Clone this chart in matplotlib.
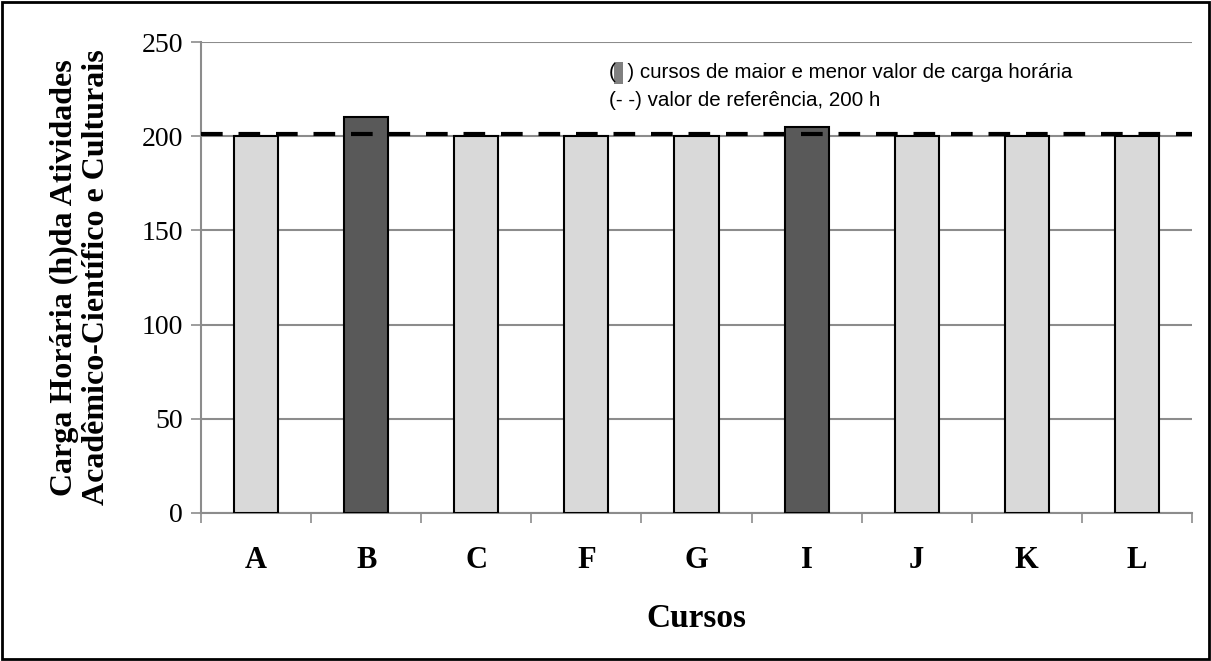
import matplotlib
matplotlib.use("Agg")
import matplotlib.pyplot as plt
from matplotlib.patches import Rectangle
import numpy as np

categories = ["A", "B", "C", "F", "G", "I", "J", "K", "L"]
values = [200, 210, 200, 200, 200, 205, 200, 200, 200]
highlight = [False, True, False, False, False, True, False, False, False]
reference_value = 201
yticks = [0, 50, 100, 150, 200, 250]

fig = plt.figure(figsize=(12.11, 6.61), dpi=100)
ax = fig.add_axes([201/1211, 1 - 513/661, (1192-201)/1211, (513-42)/661])

x = np.arange(len(categories))
colors = ["#595959" if h else "#d9d9d9" for h in highlight]
ax.bar(x, values, width=0.4, color=colors, edgecolor="black", linewidth=1.5, zorder=3)
ax.axhline(reference_value, color="black", linestyle=(0, (5.2, 3.8)), linewidth=3.0, zorder=4)

ax.set_xlim(-0.5, len(categories) - 0.5)
ax.set_ylim(0, 250)
ax.set_yticks(yticks)
ax.set_yticklabels([str(v) for v in yticks], family="Liberation Serif", fontsize=20)
ax.yaxis.grid(True, color="#8c8c8c", linewidth=1.5, zorder=0)
ax.set_axisbelow(True)

ax.set_xticks(np.arange(-0.5, len(categories), 1.0))
ax.set_xticklabels([])
ax.set_xticks(x, minor=True)
ax.set_xticklabels(categories, minor=True, family="Liberation Serif", fontsize=22, fontweight="bold")
ax.tick_params(axis="x", which="minor", length=0, pad=24)
ax.tick_params(axis="x", which="major", length=7, color="#8c8c8c", width=1.2)
ax.tick_params(axis="y", length=7, color="#8c8c8c", width=1.2, pad=6)

for s in ["top", "right"]:
    ax.spines[s].set_visible(False)
for s in ["left", "bottom"]:
    ax.spines[s].set_color("#8c8c8c")
    ax.spines[s].set_linewidth(1.5)

ax.set_xlabel("Cursos", family="Liberation Serif", fontsize=24, fontweight="bold", labelpad=20)
ax.set_ylabel("Carga Horária (h)da Atividades\nAcadêmico-Científico e Culturais",
              family="Liberation Serif", fontsize=23, fontweight="bold", labelpad=22, linespacing=1.15)

fig.text(609/1211, 1 - 72/661, "(  ) cursos de maior e menor valor de carga horária",
         family="Liberation Sans", fontsize=14.8, va="center", ha="left")
fig.text(609/1211, 1 - 100/661, "(- -) valor de referência, 200 h",
         family="Liberation Sans", fontsize=14.8, va="center", ha="left")
fig.patches.append(Rectangle((614/1211, 1 - 84/661), 9/1211, 22/661, transform=fig.transFigure,
                             facecolor="#808080", edgecolor="none"))

fig.patches.append(Rectangle((2/1211, 2/661), 1207/1211, 657/661, transform=fig.transFigure,
                             facecolor="none", edgecolor="black", linewidth=2))

fig.savefig("out.png", dpi=100)
